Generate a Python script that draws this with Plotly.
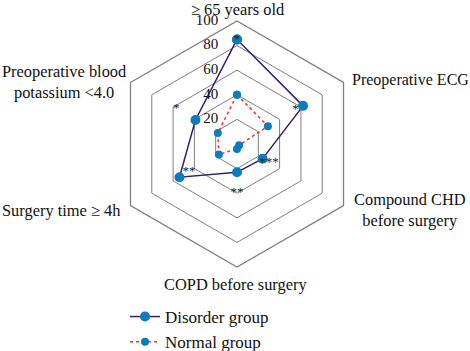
import plotly.graph_objects as go

categories = ["≥ 65 years old", "Preoperative ECG", "Compound CHD before surgery",
              "COPD before surgery", "Surgery time ≥ 4h", "Preoperative blood potassium <4.0"]
disorder = [85, 62, 24, 23, 54, 39]
normal = [40, 29, 2, 4, 17, 18]
sig_marks = ["*", "*", "***", "**", "**", "*"]
sig_r = [85, 55, 30, 40, 45, 57]
tick_vals = [0, 20, 40, 60, 80, 100]
tick_text = ["0", "20", "40", "60", "80", "100"]

FONT = "'Liberation Serif', 'Times New Roman', serif"
W, H = 470, 351
cx, cy, R = 237, 144, 123

fig = go.Figure()
fig.add_trace(go.Scatterpolar(
    r=disorder + disorder[:1], theta=categories + categories[:1],
    mode="lines+markers", name="Disorder group",
    line=dict(color="#35206b", width=1.5),
    marker=dict(color="#0c7bc0", size=10),
))
fig.add_trace(go.Scatterpolar(
    r=normal + normal[:1], theta=categories + categories[:1],
    mode="lines+markers", name="Normal group",
    line=dict(color="#ff2a2a", width=1.5, dash="dot"),
    marker=dict(color="#0c7bc0", size=8),
))
fig.add_trace(go.Scatterpolar(
    r=sig_r, theta=categories, mode="text", text=sig_marks,
    textfont=dict(family=FONT, size=13, color="#222222"),
    showlegend=False, hoverinfo="skip",
))
# radial tick labels, right-aligned just left of the vertical axis
fig.add_trace(go.Scatterpolar(
    r=tick_vals, theta=[categories[0]] * len(tick_vals), mode="text",
    text=[t + "\u00a0" * 5 for t in tick_text], textposition="middle left",
    textfont=dict(family=FONT, size=15, color="#111111"),
    showlegend=False, hoverinfo="skip",
))

# category labels (placed outside the hexagon like the original)
label_specs = [
    ("≥ 65 years old", 238, 9, "center", 16.4),
    ("Preoperative ECG", 350, 80, "left", 16),
    ("Compound CHD<br>before surgery", 410, 210, "center", 16.4),
    ("COPD before surgery", 236, 284, "center", 16.4),
    ("Surgery time ≥ 4h", 122, 210, "right", 16.4),
    ("Preoperative blood<br>potassium &lt;4.0", 64, 82, "center", 16.4),
]
for text, px, py, anchor, fs in label_specs:
    fig.add_annotation(text=text, x=px / W, y=1 - py / H, xref="paper", yref="paper",
                       xanchor=anchor, yanchor="middle", align="center", showarrow=False,
                       font=dict(family=FONT, size=fs, color="#111111"))

fig.update_layout(
    width=W, height=H,
    margin=dict(l=0, r=0, t=0, b=0, autoexpand=False),
    paper_bgcolor="white",
    font=dict(family=FONT, size=15, color="#111111"),
    polar=dict(
        domain=dict(x=[(cx - R) / W, (cx + R) / W], y=[1 - (cy + R) / H, 1 - (cy - R) / H]),
        bgcolor="white",
        gridshape="linear",
        radialaxis=dict(range=[0, 100], tickvals=tick_vals, angle=90,
                        showline=False, gridcolor="#7f7f7f", gridwidth=1.3,
                        ticks="", showticklabels=False),
        angularaxis=dict(direction="clockwise", rotation=90, showgrid=False,
                         linecolor="#7f7f7f", linewidth=1.3, ticks="",
                         showticklabels=False),
    ),
    legend=dict(x=125 / W, y=1 - 299 / H, xanchor="left", yanchor="top",
                font=dict(family=FONT, size=17), bgcolor="rgba(0,0,0,0)"),
)
fig.write_html("out.html", config={"displayModeBar": False},
               post_script="document.body.style.margin='0';")
